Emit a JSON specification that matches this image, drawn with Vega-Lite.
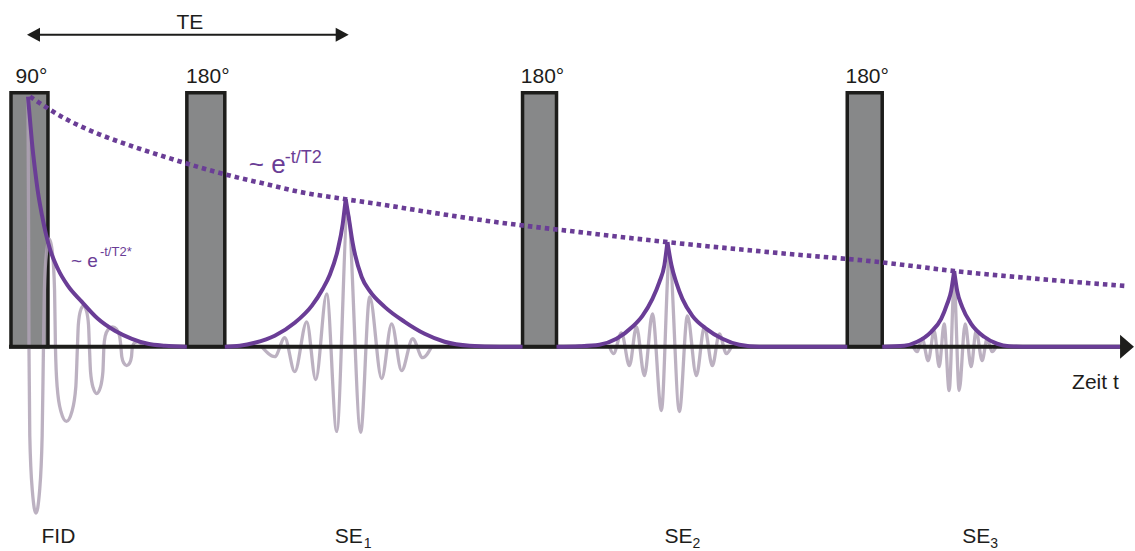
{
  "$schema": "https://vega.github.io/schema/vega-lite/v6.json",
  "width": 1135,
  "height": 551,
  "autosize": {"type": "fit", "contains": "padding"},
  "padding": 0,
  "background": "white",
  "config": {"view": {"stroke": null}, "font": "Liberation Sans"},
  "datasets": {
    "pulses": [
      {"pulse": "90", "t0": 11, "t1": 48, "top": 255, "bottom": 0},
      {"pulse": "180a", "t0": 187, "t1": 225, "top": 255, "bottom": 0},
      {"pulse": "180b", "t0": 523, "t1": 557, "top": 255, "bottom": 0},
      {"pulse": "180c", "t0": 848, "t1": 883, "top": 255, "bottom": 0}
    ],
    "signal": [
      {"id": "FID", "t": 28, "s": 251}, {"id": "FID", "t": 28.6, "s": 120}, {"id": "FID", "t": 29, "s": 0},
      {"id": "FID", "t": 29.8, "s": -89}, {"id": "FID", "t": 32.4, "s": -145}, {"id": "FID", "t": 36, "s": -167},
      {"id": "FID", "t": 39.6, "s": -145}, {"id": "FID", "t": 42.2, "s": -89}, {"id": "FID", "t": 43.5, "s": 0},
      {"id": "FID", "t": 44.4, "s": 57}, {"id": "FID", "t": 46.5, "s": 94}, {"id": "FID", "t": 49.5, "s": 108},
      {"id": "FID", "t": 52.5, "s": 94}, {"id": "FID", "t": 54.6, "s": 57}, {"id": "FID", "t": 55.5, "s": 0},
      {"id": "FID", "t": 57.2, "s": -40}, {"id": "FID", "t": 61, "s": -65}, {"id": "FID", "t": 66.5, "s": -75},
      {"id": "FID", "t": 72, "s": -65}, {"id": "FID", "t": 75.9, "s": -40}, {"id": "FID", "t": 77.5, "s": 0},
      {"id": "FID", "t": 78.4, "s": 22}, {"id": "FID", "t": 80.5, "s": 36}, {"id": "FID", "t": 83.5, "s": 41},
      {"id": "FID", "t": 86.5, "s": 36}, {"id": "FID", "t": 88.6, "s": 22}, {"id": "FID", "t": 89.5, "s": 0},
      {"id": "FID", "t": 90.6, "s": -25}, {"id": "FID", "t": 93.2, "s": -41}, {"id": "FID", "t": 96.8, "s": -47},
      {"id": "FID", "t": 100.4, "s": -41}, {"id": "FID", "t": 103, "s": -25}, {"id": "FID", "t": 104, "s": 0},
      {"id": "FID", "t": 105.3, "s": 10.6}, {"id": "FID", "t": 108.3, "s": 17.4}, {"id": "FID", "t": 112.5, "s": 20},
      {"id": "FID", "t": 116.8, "s": 17.4}, {"id": "FID", "t": 119.7, "s": 10.6}, {"id": "FID", "t": 121, "s": 0},
      {"id": "FID", "t": 121.9, "s": -10}, {"id": "FID", "t": 124, "s": -16.5}, {"id": "FID", "t": 126.8, "s": -19},
      {"id": "FID", "t": 129.7, "s": -16.5}, {"id": "FID", "t": 131.6, "s": -10}, {"id": "FID", "t": 132.5, "s": 0},
      {"id": "FID", "t": 135, "s": 4.3}, {"id": "FID", "t": 137.5, "s": 5}, {"id": "FID", "t": 140, "s": 4.3},
      {"id": "FID", "t": 143, "s": 0},
      {"id": "SE1", "t": 262, "s": 0}, {"id": "SE1", "t": 275, "s": -10}, {"id": "SE1", "t": 285, "s": 9},
      {"id": "SE1", "t": 295, "s": -25}, {"id": "SE1", "t": 307, "s": 25}, {"id": "SE1", "t": 316, "s": -33},
      {"id": "SE1", "t": 327, "s": 53}, {"id": "SE1", "t": 337, "s": -85}, {"id": "SE1", "t": 348, "s": 135},
      {"id": "SE1", "t": 361, "s": -86}, {"id": "SE1", "t": 370, "s": 50}, {"id": "SE1", "t": 382, "s": -32},
      {"id": "SE1", "t": 392, "s": 23}, {"id": "SE1", "t": 402, "s": -24}, {"id": "SE1", "t": 413, "s": 8},
      {"id": "SE1", "t": 423, "s": -11}, {"id": "SE1", "t": 432, "s": 0},
      {"id": "SE2", "t": 610, "s": 0}, {"id": "SE2", "t": 614, "s": -7}, {"id": "SE2", "t": 622, "s": 14},
      {"id": "SE2", "t": 630, "s": -19}, {"id": "SE2", "t": 637, "s": 20}, {"id": "SE2", "t": 645, "s": -29},
      {"id": "SE2", "t": 653, "s": 33}, {"id": "SE2", "t": 662, "s": -64}, {"id": "SE2", "t": 670, "s": 90},
      {"id": "SE2", "t": 680, "s": -65}, {"id": "SE2", "t": 688, "s": 31}, {"id": "SE2", "t": 697, "s": -29},
      {"id": "SE2", "t": 705, "s": 20}, {"id": "SE2", "t": 713, "s": -19}, {"id": "SE2", "t": 720, "s": 13},
      {"id": "SE2", "t": 727, "s": -7}, {"id": "SE2", "t": 732, "s": 0},
      {"id": "SE3", "t": 914, "s": 0}, {"id": "SE3", "t": 918, "s": -5}, {"id": "SE3", "t": 923, "s": 8},
      {"id": "SE3", "t": 929, "s": -14}, {"id": "SE3", "t": 935, "s": 16}, {"id": "SE3", "t": 940, "s": -20},
      {"id": "SE3", "t": 945, "s": 23}, {"id": "SE3", "t": 950, "s": -44}, {"id": "SE3", "t": 955, "s": 63},
      {"id": "SE3", "t": 960, "s": -44}, {"id": "SE3", "t": 966, "s": 23}, {"id": "SE3", "t": 972, "s": -20},
      {"id": "SE3", "t": 977, "s": 16}, {"id": "SE3", "t": 983, "s": -14}, {"id": "SE3", "t": 988, "s": 8},
      {"id": "SE3", "t": 993, "s": -5}, {"id": "SE3", "t": 997, "s": 0}
    ],
    "envelope": [
      {"seg": "FID", "t": 28, "s": 251}, {"seg": "FID", "t": 30, "s": 228}, {"seg": "FID", "t": 32, "s": 205},
      {"seg": "FID", "t": 35, "s": 178}, {"seg": "FID", "t": 38, "s": 155}, {"seg": "FID", "t": 42, "s": 132},
      {"seg": "FID", "t": 46, "s": 113}, {"seg": "FID", "t": 50, "s": 98}, {"seg": "FID", "t": 58, "s": 78},
      {"seg": "FID", "t": 68, "s": 61}, {"seg": "FID", "t": 82, "s": 45}, {"seg": "FID", "t": 98, "s": 28},
      {"seg": "FID", "t": 115, "s": 16}, {"seg": "FID", "t": 132, "s": 8}, {"seg": "FID", "t": 148, "s": 3},
      {"seg": "FID", "t": 165, "s": 1}, {"seg": "FID", "t": 187, "s": 0},
      {"seg": "SE1a", "t": 225, "s": 0}, {"seg": "SE1a", "t": 240, "s": 1}, {"seg": "SE1a", "t": 255, "s": 4},
      {"seg": "SE1a", "t": 275, "s": 11}, {"seg": "SE1a", "t": 295, "s": 24}, {"seg": "SE1a", "t": 312, "s": 41},
      {"seg": "SE1a", "t": 323, "s": 58}, {"seg": "SE1a", "t": 330, "s": 72}, {"seg": "SE1a", "t": 338, "s": 97},
      {"seg": "SE1a", "t": 343, "s": 123}, {"seg": "SE1a", "t": 346, "s": 148},
      {"seg": "SE1b", "t": 346, "s": 148}, {"seg": "SE1b", "t": 349, "s": 130}, {"seg": "SE1b", "t": 353, "s": 104},
      {"seg": "SE1b", "t": 362, "s": 70}, {"seg": "SE1b", "t": 370, "s": 56}, {"seg": "SE1b", "t": 385, "s": 40},
      {"seg": "SE1b", "t": 405, "s": 25}, {"seg": "SE1b", "t": 425, "s": 13}, {"seg": "SE1b", "t": 445, "s": 5},
      {"seg": "SE1b", "t": 470, "s": 1}, {"seg": "SE1b", "t": 500, "s": 0}, {"seg": "SE1b", "t": 523, "s": 0},
      {"seg": "SE2a", "t": 557, "s": 0}, {"seg": "SE2a", "t": 580, "s": 0.5}, {"seg": "SE2a", "t": 600, "s": 2},
      {"seg": "SE2a", "t": 617, "s": 8}, {"seg": "SE2a", "t": 633, "s": 20}, {"seg": "SE2a", "t": 643, "s": 31},
      {"seg": "SE2a", "t": 653, "s": 48}, {"seg": "SE2a", "t": 660, "s": 65}, {"seg": "SE2a", "t": 665, "s": 82},
      {"seg": "SE2a", "t": 668, "s": 105},
      {"seg": "SE2b", "t": 668, "s": 105}, {"seg": "SE2b", "t": 672, "s": 82}, {"seg": "SE2b", "t": 677, "s": 64},
      {"seg": "SE2b", "t": 683, "s": 48}, {"seg": "SE2b", "t": 693, "s": 31}, {"seg": "SE2b", "t": 707, "s": 18},
      {"seg": "SE2b", "t": 723, "s": 8}, {"seg": "SE2b", "t": 740, "s": 2}, {"seg": "SE2b", "t": 760, "s": 0},
      {"seg": "SE2b", "t": 848, "s": 0},
      {"seg": "SE3a", "t": 883, "s": 0}, {"seg": "SE3a", "t": 905, "s": 1}, {"seg": "SE3a", "t": 918, "s": 5},
      {"seg": "SE3a", "t": 932, "s": 15}, {"seg": "SE3a", "t": 942, "s": 28}, {"seg": "SE3a", "t": 948, "s": 43},
      {"seg": "SE3a", "t": 952, "s": 56}, {"seg": "SE3a", "t": 955, "s": 76},
      {"seg": "SE3b", "t": 955, "s": 76}, {"seg": "SE3b", "t": 958, "s": 56}, {"seg": "SE3b", "t": 963, "s": 40},
      {"seg": "SE3b", "t": 972, "s": 23}, {"seg": "SE3b", "t": 985, "s": 10}, {"seg": "SE3b", "t": 998, "s": 3},
      {"seg": "SE3b", "t": 1010, "s": 0.5}, {"seg": "SE3b", "t": 1030, "s": 0}, {"seg": "SE3b", "t": 1121, "s": 0}
    ],
    "t2decay": [
      {"t": 30, "s": 251}, {"t": 67, "s": 228}, {"t": 100, "s": 213}, {"t": 133, "s": 201}, {"t": 167, "s": 190},
      {"t": 200, "s": 180}, {"t": 233, "s": 171}, {"t": 263, "s": 164}, {"t": 297, "s": 156}, {"t": 346, "s": 148},
      {"t": 380, "s": 143}, {"t": 430, "s": 135}, {"t": 490, "s": 126}, {"t": 580, "s": 115}, {"t": 668, "s": 105},
      {"t": 780, "s": 94}, {"t": 880, "s": 85}, {"t": 955, "s": 76}, {"t": 1040, "s": 68}, {"t": 1126, "s": 61}
    ],
    "rules": [
      {"kind": "axis", "t0": 9, "t1": 1122, "s": 0},
      {"kind": "te", "t0": 32, "t1": 344, "s": 313}
    ],
    "arrows": [
      {"kind": "axis", "dir": "right", "t": 1128, "s": 0},
      {"kind": "te", "dir": "left", "t": 33.5, "s": 313},
      {"kind": "te", "dir": "right", "t": 342.5, "s": 313}
    ],
    "labels": [
      {"kind": "main", "label": "TE", "t": 190, "s": 319},
      {"kind": "main", "label": "90°", "t": 31.5, "s": 265},
      {"kind": "main", "label": "180°", "t": 208, "s": 265},
      {"kind": "main", "label": "180°", "t": 543, "s": 265},
      {"kind": "main", "label": "180°", "t": 868, "s": 265},
      {"kind": "main", "label": "FID", "t": 58.5, "s": -197},
      {"kind": "left", "label": "Zeit t", "t": 1073, "s": -42},
      {"kind": "left", "label": "SE", "t": 335, "s": -197},
      {"kind": "left", "label": "SE", "t": 665, "s": -197},
      {"kind": "left", "label": "SE", "t": 963, "s": -197},
      {"kind": "sub", "label": "1", "t": 364, "s": -202},
      {"kind": "sub", "label": "2", "t": 693, "s": -202},
      {"kind": "sub", "label": "3", "t": 991, "s": -202},
      {"kind": "bigexp", "label": "~ e", "t": 249, "s": 174},
      {"kind": "bigsup", "label": "-t/T2", "t": 285, "s": 184},
      {"kind": "smallexp", "label": "~ e", "t": 71, "s": 80},
      {"kind": "smallsup", "label": "-t/T2*", "t": 100, "s": 91}
    ]
  },
  "layer": [
    {
      "data": {"name": "pulses"},
      "mark": {"type": "rect", "fill": "#878889", "stroke": "#1d1d1b", "strokeWidth": 3.5},
      "encoding": {
        "x": {"field": "t0", "type": "quantitative", "scale": {"domain": [0, 1135], "nice": false, "zero": false}, "axis": null},
        "x2": {"field": "t1"},
        "y": {"field": "top", "type": "quantitative", "scale": {"domain": [-203, 348], "nice": false, "zero": false}, "axis": null},
        "y2": {"field": "bottom"}
      }
    },
    {
      "data": {"name": "signal"},
      "mark": {"type": "line", "interpolate": "monotone", "color": "#b0a3b6", "opacity": 0.85, "strokeWidth": 3.3},
      "encoding": {
        "x": {"field": "t", "type": "quantitative", "scale": {"domain": [0, 1135], "nice": false, "zero": false}, "axis": null},
        "y": {"field": "s", "type": "quantitative", "scale": {"domain": [-203, 348], "nice": false, "zero": false}, "axis": null},
        "detail": {"field": "id", "type": "nominal"}
      }
    },
    {
      "data": {"name": "rules"},
      "transform": [{"filter": "datum.kind === 'axis'"}],
      "mark": {"type": "rule", "color": "#1d1d1b", "strokeWidth": 4},
      "encoding": {
        "x": {"field": "t0", "type": "quantitative", "scale": {"domain": [0, 1135], "nice": false, "zero": false}, "axis": null},
        "x2": {"field": "t1"},
        "y": {"field": "s", "type": "quantitative", "scale": {"domain": [-203, 348], "nice": false, "zero": false}, "axis": null}
      }
    },
    {
      "data": {"name": "rules"},
      "transform": [{"filter": "datum.kind === 'te'"}],
      "mark": {"type": "rule", "color": "#1d1d1b", "strokeWidth": 2},
      "encoding": {
        "x": {"field": "t0", "type": "quantitative", "scale": {"domain": [0, 1135], "nice": false, "zero": false}, "axis": null},
        "x2": {"field": "t1"},
        "y": {"field": "s", "type": "quantitative", "scale": {"domain": [-203, 348], "nice": false, "zero": false}, "axis": null}
      }
    },
    {
      "data": {"name": "envelope"},
      "mark": {"type": "line", "interpolate": "monotone", "color": "#6a3d96", "strokeWidth": 4},
      "encoding": {
        "x": {"field": "t", "type": "quantitative", "scale": {"domain": [0, 1135], "nice": false, "zero": false}, "axis": null},
        "y": {"field": "s", "type": "quantitative", "scale": {"domain": [-203, 348], "nice": false, "zero": false}, "axis": null},
        "detail": {"field": "seg", "type": "nominal"}
      }
    },
    {
      "data": {"name": "t2decay"},
      "mark": {"type": "line", "interpolate": "monotone", "color": "#6a3d96", "strokeWidth": 4.6, "strokeDash": [4.5, 4], "strokeCap": "butt"},
      "encoding": {
        "x": {"field": "t", "type": "quantitative", "scale": {"domain": [0, 1135], "nice": false, "zero": false}, "axis": null},
        "y": {"field": "s", "type": "quantitative", "scale": {"domain": [-203, 348], "nice": false, "zero": false}, "axis": null}
      }
    },
    {
      "data": {"name": "arrows"},
      "transform": [{"filter": "datum.kind === 'axis'"}],
      "mark": {"type": "point", "shape": "M -0.58 -1 L 0.58 0 L -0.58 1 Z", "size": 576, "filled": true, "color": "#1d1d1b", "opacity": 1, "strokeWidth": 0},
      "encoding": {
        "x": {"field": "t", "type": "quantitative", "scale": {"domain": [0, 1135], "nice": false, "zero": false}, "axis": null},
        "y": {"field": "s", "type": "quantitative", "scale": {"domain": [-203, 348], "nice": false, "zero": false}, "axis": null}
      }
    },
    {
      "data": {"name": "arrows"},
      "transform": [{"filter": "datum.kind === 'te' && datum.dir === 'left'"}],
      "mark": {"type": "point", "shape": "M 0.93 -1 L -0.93 0 L 0.93 1 Z", "size": 196, "filled": true, "color": "#1d1d1b", "opacity": 1, "strokeWidth": 0},
      "encoding": {
        "x": {"field": "t", "type": "quantitative", "scale": {"domain": [0, 1135], "nice": false, "zero": false}, "axis": null},
        "y": {"field": "s", "type": "quantitative", "scale": {"domain": [-203, 348], "nice": false, "zero": false}, "axis": null}
      }
    },
    {
      "data": {"name": "arrows"},
      "transform": [{"filter": "datum.kind === 'te' && datum.dir === 'right'"}],
      "mark": {"type": "point", "shape": "M -0.93 -1 L 0.93 0 L -0.93 1 Z", "size": 196, "filled": true, "color": "#1d1d1b", "opacity": 1, "strokeWidth": 0},
      "encoding": {
        "x": {"field": "t", "type": "quantitative", "scale": {"domain": [0, 1135], "nice": false, "zero": false}, "axis": null},
        "y": {"field": "s", "type": "quantitative", "scale": {"domain": [-203, 348], "nice": false, "zero": false}, "axis": null}
      }
    },
    {
      "data": {"name": "labels"},
      "transform": [{"filter": "datum.kind === 'main'"}],
      "mark": {"type": "text", "align": "center", "baseline": "alphabetic", "fontSize": 21, "color": "#1d1d1b", "font": "Liberation Sans"},
      "encoding": {
        "x": {"field": "t", "type": "quantitative", "scale": {"domain": [0, 1135], "nice": false, "zero": false}, "axis": null},
        "y": {"field": "s", "type": "quantitative", "scale": {"domain": [-203, 348], "nice": false, "zero": false}, "axis": null},
        "text": {"field": "label"}
      }
    },
    {
      "data": {"name": "labels"},
      "transform": [{"filter": "datum.kind === 'left'"}],
      "mark": {"type": "text", "align": "left", "baseline": "alphabetic", "fontSize": 21, "color": "#1d1d1b", "font": "Liberation Sans"},
      "encoding": {
        "x": {"field": "t", "type": "quantitative", "scale": {"domain": [0, 1135], "nice": false, "zero": false}, "axis": null},
        "y": {"field": "s", "type": "quantitative", "scale": {"domain": [-203, 348], "nice": false, "zero": false}, "axis": null},
        "text": {"field": "label"}
      }
    },
    {
      "data": {"name": "labels"},
      "transform": [{"filter": "datum.kind === 'sub'"}],
      "mark": {"type": "text", "align": "left", "baseline": "alphabetic", "fontSize": 14, "color": "#1d1d1b", "font": "Liberation Sans"},
      "encoding": {
        "x": {"field": "t", "type": "quantitative", "scale": {"domain": [0, 1135], "nice": false, "zero": false}, "axis": null},
        "y": {"field": "s", "type": "quantitative", "scale": {"domain": [-203, 348], "nice": false, "zero": false}, "axis": null},
        "text": {"field": "label"}
      }
    },
    {
      "data": {"name": "labels"},
      "transform": [{"filter": "datum.kind === 'bigexp'"}],
      "mark": {"type": "text", "align": "left", "baseline": "alphabetic", "fontSize": 26, "color": "#6a3d96", "font": "Liberation Sans"},
      "encoding": {
        "x": {"field": "t", "type": "quantitative", "scale": {"domain": [0, 1135], "nice": false, "zero": false}, "axis": null},
        "y": {"field": "s", "type": "quantitative", "scale": {"domain": [-203, 348], "nice": false, "zero": false}, "axis": null},
        "text": {"field": "label"}
      }
    },
    {
      "data": {"name": "labels"},
      "transform": [{"filter": "datum.kind === 'bigsup'"}],
      "mark": {"type": "text", "align": "left", "baseline": "alphabetic", "fontSize": 18, "color": "#6a3d96", "font": "Liberation Sans"},
      "encoding": {
        "x": {"field": "t", "type": "quantitative", "scale": {"domain": [0, 1135], "nice": false, "zero": false}, "axis": null},
        "y": {"field": "s", "type": "quantitative", "scale": {"domain": [-203, 348], "nice": false, "zero": false}, "axis": null},
        "text": {"field": "label"}
      }
    },
    {
      "data": {"name": "labels"},
      "transform": [{"filter": "datum.kind === 'smallexp'"}],
      "mark": {"type": "text", "align": "left", "baseline": "alphabetic", "fontSize": 19, "color": "#6a3d96", "font": "Liberation Sans"},
      "encoding": {
        "x": {"field": "t", "type": "quantitative", "scale": {"domain": [0, 1135], "nice": false, "zero": false}, "axis": null},
        "y": {"field": "s", "type": "quantitative", "scale": {"domain": [-203, 348], "nice": false, "zero": false}, "axis": null},
        "text": {"field": "label"}
      }
    },
    {
      "data": {"name": "labels"},
      "transform": [{"filter": "datum.kind === 'smallsup'"}],
      "mark": {"type": "text", "align": "left", "baseline": "alphabetic", "fontSize": 13, "color": "#6a3d96", "font": "Liberation Sans"},
      "encoding": {
        "x": {"field": "t", "type": "quantitative", "scale": {"domain": [0, 1135], "nice": false, "zero": false}, "axis": null},
        "y": {"field": "s", "type": "quantitative", "scale": {"domain": [-203, 348], "nice": false, "zero": false}, "axis": null},
        "text": {"field": "label"}
      }
    }
  ]
}
